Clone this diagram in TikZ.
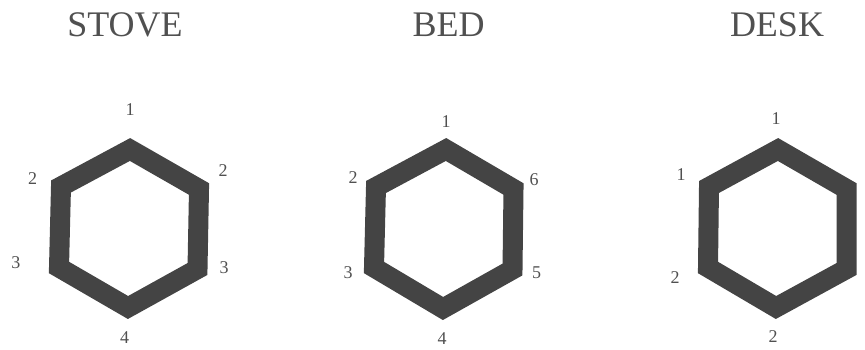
\documentclass[tikz,border=0pt]{standalone}
\usepackage{fontspec}
\setmainfont{Liberation Serif}
\definecolor{hexgray}{HTML}{444444}
\definecolor{txtgray}{HTML}{505050}
\tikzset{
  hexline/.style={draw=hexgray, line width=20pt, line join=miter, miter limit=10},
  title/.style={text=txtgray, font=\fontsize{36}{40}\selectfont, inner sep=0pt, anchor=center},
  lab/.style={text=txtgray, font=\fontsize{18}{20}\selectfont, inner sep=0pt, anchor=center}
}
\begin{document}
\begin{tikzpicture}[x=1pt,y=-1pt]
\useasboundingbox (0,0) rectangle (865,350);
% titles
\node[title] (t1) at (125,25) {STOVE};
\node[title] (t2) at (448.5,25) {BED};
\node[title] (t3) at (777,25) {DESK};
% STOVE hexagon
\coordinate (s1) at (130,149.5);
\coordinate (s2) at (199,189);
\coordinate (s3) at (197.5,269);
\coordinate (s4) at (128,307.5);
\coordinate (s5) at (59,267.5);
\coordinate (s6) at (61,186.5);
\draw[hexline] (s1) -- (s2) -- (s3) -- (s4) -- (s5) -- (s6) -- cycle;
\node[lab] (sl1) at (130,109.5) {1};
\node[lab] (sl2) at (223,171) {2};
\node[lab] (sl3) at (224,268) {3};
\node[lab] (sl4) at (124.5,337.5) {4};
\node[lab] (sl5) at (16,262.5) {3};
\node[lab] (sl6) at (32.5,179) {2};
% BED hexagon
\coordinate (b1) at (446,149.5);
\coordinate (b2) at (513.5,189);
\coordinate (b3) at (512.5,269.5);
\coordinate (b4) at (443,308.5);
\coordinate (b5) at (374,267.5);
\coordinate (b6) at (376,187);
\draw[hexline] (b1) -- (b2) -- (b3) -- (b4) -- (b5) -- (b6) -- cycle;
\node[lab] (bl1) at (446,121.5) {1};
\node[lab] (bl2) at (534,180) {6};
\node[lab] (bl3) at (536.5,272.5) {5};
\node[lab] (bl4) at (442,338.5) {4};
\node[lab] (bl5) at (348,272.5) {3};
\node[lab] (bl6) at (353,178) {2};
% DESK hexagon
\coordinate (d1) at (778,149.5);
\coordinate (d2) at (846.5,189);
\coordinate (d3) at (846.5,269);
\coordinate (d4) at (776,307.5);
\coordinate (d5) at (708,267.5);
\coordinate (d6) at (709,187);
\draw[hexline] (d1) -- (d2) -- (d3) -- (d4) -- (d5) -- (d6) -- cycle;
\node[lab] (dl1) at (776,118.5) {1};
\node[lab] (dl2) at (869,178) {1};
\node[lab] (dl3) at (869,277) {2};
\node[lab] (dl4) at (773,337) {2};
\node[lab] (dl5) at (675,277.5) {2};
\node[lab] (dl6) at (681,174.5) {1};
\end{tikzpicture}
\end{document}
